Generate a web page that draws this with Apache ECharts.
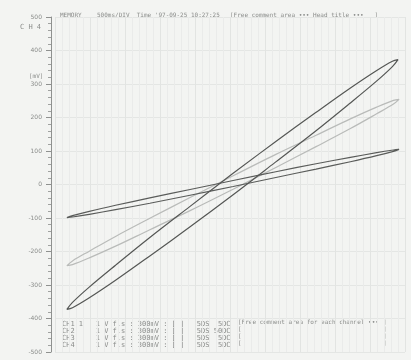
<!DOCTYPE html>
<html lang="en">
<head>
    <meta charset="UTF-8">
    <title>CH4 XY</title>
    <script src="https://cdn.jsdelivr.net/npm/echarts@6/dist/echarts.min.js"></script>
    <style>
        html, body { margin: 0; padding: 0; background: #f3f4f2; }
        #main { width: 411px; height: 360px; }
    </style>
</head>
<body>
<div id="main"></div>
<script>
    // y axis ticks (mV)
    var yTicks = [500, 400, 300, 200, 100, 0, -100, -200, -300, -400, -500];

    // loops, [x, y]
    var steepLoop = [
        [7, 32], [129, 127], [244, 214], [341, 286], [417, 339], [464, 368], [480, 373],
        [464, 352], [417, 307], [341, 241], [244, 159], [129, 66], [7, -32],
        [-115, -127], [-230, -214], [-327, -286], [-403, -339], [-450, -368], [-466, -373],
        [-450, -352], [-403, -307], [-327, -241], [-230, -159], [-115, -66], [7, 32]
    ];
    var lightLoop = [
        [9, 26], [131, 90], [246, 147], [344, 196], [419, 231], [467, 251], [483, 254],
        [467, 240], [419, 211], [344, 167], [246, 113], [131, 51], [9, -14],
        [-114, -78], [-229, -135], [-327, -184], [-402, -219], [-450, -239], [-466, -242],
        [-450, -228], [-402, -199], [-327, -155], [-229, -101], [-114, -39], [9, 26]
    ];
    var flatLoop = [
        [9, 12], [131, 38], [246, 62], [344, 81], [419, 95], [467, 103], [483, 105],
        [467, 99], [419, 86], [344, 68], [246, 46], [131, 21], [9, -6],
        [-114, -32], [-229, -56], [-327, -75], [-402, -89], [-450, -97], [-466, -99],
        [-450, -93], [-402, -80], [-327, -62], [-229, -40], [-114, -15], [9, 12]
    ];

    var headText = ['MEMORY', "500ms/DIV  Time '97-09-25 10:27:25", '[Free comment area \u2022\u2022\u2022 Head title \u2022\u2022\u2022   ]'];
    var chRows = [
        'CH1 1   1 V f.s : 300mV : [ ]   5DS  5DC',
        'CH2     1 V f.s : 300mV : [ ]   5DS 50DC',
        'CH3     1 V f.s : 300mV : [ ]   5DS  5DC',
        'CH4     1 V f.s : 300mV : [ ]   5DS  5DC'
    ];
    var chComment = '[Free comment area for each channel \u2022\u2022\u2022';

    var myChart = echarts.init(document.getElementById('main'));
    var grey = '#8a8c8a';
    var mono = 'DejaVu Sans Mono';

    function loop(data, color) {
        return {
            type: 'line',
            data: data,
            showSymbol: false,
            smooth: 0.35,
            silent: true,
            lineStyle: { color: color, width: 1.2 },
            animation: false
        };
    }

    var graphics = [
        { type: 'text', left: 60, top: 12, style: { text: headText[0], font: '6px ' + mono, fill: grey } },
        { type: 'text', left: 97, top: 12, style: { text: headText[1], font: '6px ' + mono, fill: grey } },
        { type: 'text', left: 230, top: 12, style: { text: headText[2], font: '6px ' + mono, fill: grey } },
        { type: 'text', left: 20, top: 24, style: { text: 'C H 4', font: '7px ' + mono, fill: grey } },
        { type: 'text', left: 29, top: 73, style: { text: '[mV]', font: '6px ' + mono, fill: grey } },
        { type: 'text', left: 238, top: 319, style: { text: chComment, font: '6px ' + mono, fill: grey } },
        { type: 'text', left: 383, top: 319, style: { text: ']\n]\n]\n]', font: '6px ' + mono, lineHeight: 7, fill: grey } },
        { type: 'text', left: 238, top: 326, style: { text: '[\n[\n[', font: '6px ' + mono, lineHeight: 7, fill: grey } }
    ];
    chRows.forEach(function (row, i) {
        graphics.push({ type: 'text', left: 62, top: 321 + i * 7,
            style: { text: row, font: '7px ' + mono, fill: grey } });
    });

    var option = {
        backgroundColor: '#f3f4f2',
        animation: false,
        grid: { left: 55, right: 6, top: 17, bottom: 8 },
        xAxis: {
            type: 'value',
            min: -500,
            max: 500,
            interval: 100,
            axisLine: { show: false },
            axisTick: { show: false },
            axisLabel: { show: false },
            splitLine: { lineStyle: { color: '#e2e4e2', width: 1 } },
            minorTick: { show: false, splitNumber: 5 },
            minorSplitLine: { show: true, lineStyle: { color: '#eaebea', width: 1 } }
        },
        yAxis: {
            type: 'value',
            min: -500,
            max: 500,
            interval: 100,
            offset: 4,
            axisLine: { show: true, onZero: false, lineStyle: { color: '#8f918f', width: 1 } },
            axisTick: { show: true, length: 5, lineStyle: { color: '#8f918f' } },
            minorTick: { show: true, splitNumber: 5, length: 3, lineStyle: { color: '#a0a2a0' } },
            axisLabel: {
                margin: 9,
                fontSize: 6,
                fontFamily: 'DejaVu Sans',
                color: grey,
                formatter: function (v) { return yTicks.indexOf(v) >= 0 ? String(v) : ''; }
            },
            splitLine: { lineStyle: { color: '#e4e6e4', width: 1 } }
        },
        graphic: graphics,
        series: [
            loop(lightLoop, '#b9bbb9'),
            loop(flatLoop, '#5a5c5a'),
            loop(steepLoop, '#555755')
        ]
    };
    myChart.setOption(option);
</script>
</body>
</html>
